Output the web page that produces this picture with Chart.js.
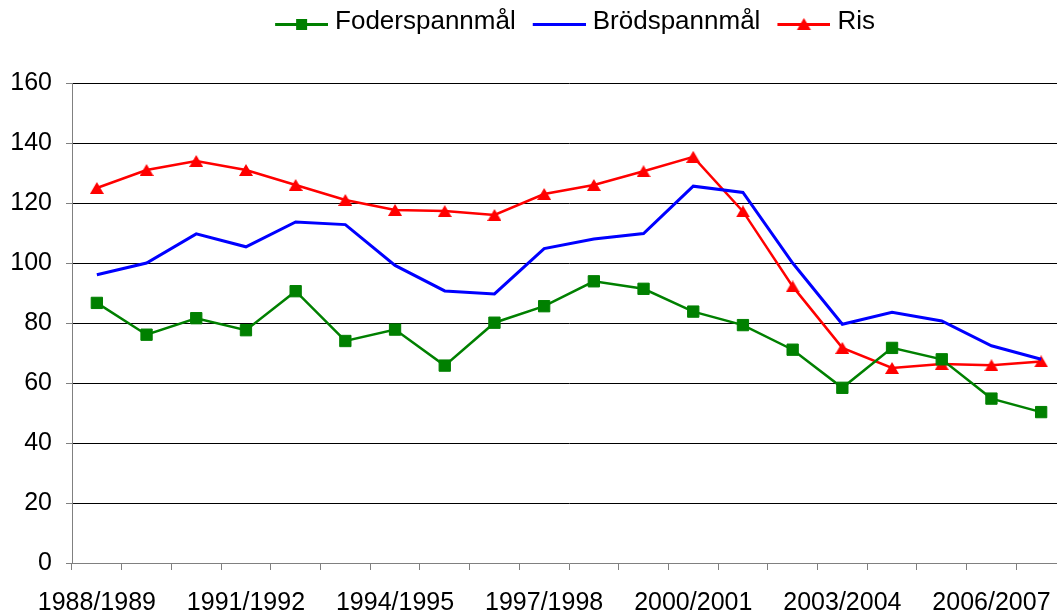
<!DOCTYPE html>
<html>
<head>
<meta charset="utf-8">
<script src="https://cdn.jsdelivr.net/npm/chart.js@4"></script>
<style>
  html, body { margin: 0; padding: 0; background: #fff; overflow: hidden; }
</style>
</head>
<body>
<canvas id="grafico" width="1080" height="614"></canvas>
<script>
// Data
const kategorier = ['1988/1989', '1989/1990', '1990/1991', '1991/1992', '1992/1993', '1993/1994',
  '1994/1995', '1995/1996', '1996/1997', '1997/1998', '1998/1999', '1999/2000', '2000/2001',
  '2001/2002', '2002/2003', '2003/2004', '2004/2005', '2005/2006', '2006/2007', '2007/2008'];
const foderspannmal = [86.7, 76.1, 81.6, 77.6, 90.6, 74.0, 77.8, 65.8, 80.1, 85.6,
  93.9, 91.4, 83.8, 79.3, 71.1, 58.4, 71.7, 67.9, 54.8, 50.3];
const brodspannmal = [96.1, 100.0, 109.7, 105.4, 113.7, 112.8, 99.2, 90.7, 89.7, 104.8,
  108.0, 109.8, 125.6, 123.5, 100.0, 79.6, 83.6, 80.7, 72.4, 67.9];
const ris = [125.0, 131.0, 134.0, 131.0, 126.0, 121.0, 117.7, 117.3, 116.0, 123.0,
  126.0, 130.6, 135.4, 117.2, 92.2, 71.7, 65.0, 66.3, 65.9, 67.2];
const yTicks = [0, 20, 40, 60, 80, 100, 120, 140, 160];

// triangle marker centred on its box (like Excel)
function triangel(w, h, color) {
  const c = document.createElement('canvas');
  c.width = w; c.height = h;
  const g = c.getContext('2d');
  g.fillStyle = color;
  g.beginPath();
  g.moveTo(w / 2, 0);
  g.lineTo(w, h);
  g.lineTo(0, h);
  g.closePath();
  g.fill();
  return c;
}

// legend sample: line with marker in the middle
function legendBild(color, marker) {
  const c = document.createElement('canvas');
  c.width = 71; c.height = 26;
  const g = c.getContext('2d');
  const y = 15.5, x0 = 18, x1 = 71, xm = (x0 + x1) / 2;
  g.strokeStyle = color;
  g.lineWidth = 3;
  g.beginPath(); g.moveTo(x0, y); g.lineTo(x1, y); g.stroke();
  g.fillStyle = color;
  if (marker === 'rect') {
    g.fillRect(xm - 5.5, y - 5.5, 11, 11);
  } else if (marker === 'tri') {
    g.beginPath();
    g.moveTo(xm, y - 6.5); g.lineTo(xm + 7, y + 5.5); g.lineTo(xm - 7, y + 5.5);
    g.closePath(); g.fill();
  }
  return c;
}

const legendBilder = [
  legendBild('#008000', 'rect'),
  legendBild('#0000ff', null),
  legendBild('#ff0000', 'tri')
];

// make room under the legend without moving its text
const legendHojd = {
  id: 'legendHojd',
  beforeInit(chart) {
    const fit = chart.legend.fit;
    chart.legend.fit = function () {
      fit.bind(chart.legend)();
      this.height = 79;
    };
  }
};

const ctx = document.getElementById('grafico').getContext('2d');
new Chart(ctx, {
  type: 'line',
  data: {
    labels: kategorier,
    datasets: [
      {
        label: 'Foderspannmål',
        data: foderspannmal,
        borderColor: '#008000',
        backgroundColor: '#008000',
        borderWidth: 2.5,
        pointStyle: 'rect',
        pointRadius: 8,
        pointBorderWidth: 1,
        tension: 0
      },
      {
        label: 'Brödspannmål',
        data: brodspannmal,
        borderColor: '#0000ff',
        backgroundColor: '#0000ff',
        borderWidth: 3,
        pointRadius: 0,
        tension: 0
      },
      {
        label: 'Ris',
        data: ris,
        borderColor: '#ff0000',
        backgroundColor: '#ff0000',
        borderWidth: 2.5,
        pointStyle: triangel(14, 12, '#ff0000'),
        pointRadius: 7,
        tension: 0
      }
    ]
  },
  options: {
    responsive: false,
    animation: false,
    layout: { padding: { left: 0, right: 14, top: 4, bottom: 0 } },
    plugins: {
      tooltip: { enabled: false },
      legend: {
        position: 'top',
        fullSize: false,
        labels: {
          color: '#000',
          font: { family: 'Liberation Sans, Arial', size: 26 },
          padding: 5,
          usePointStyle: true,
          pointStyleWidth: 59,
          generateLabels(chart) {
            const items = Chart.defaults.plugins.legend.labels.generateLabels(chart);
            items.forEach((it, i) => { it.pointStyle = legendBilder[i]; });
            return items;
          }
        }
      }
    },
    scales: {
      x: {
        offset: true,
        grid: {
          offset: true,
          drawOnChartArea: false,
          drawTicks: true,
          tickLength: 7,
          tickColor: '#808080'
        },
        border: { color: '#808080', width: 1 },
        ticks: {
          autoSkip: false,
          maxRotation: 0,
          padding: 18,
          color: '#000',
          font: { family: 'Liberation Sans, Arial', size: 25 },
          callback(v, i) { return i % 3 === 0 ? kategorier[i] : ''; }
        },
        afterFit(scale) { scale.height = 51; }
      },
      y: {
        min: 0,
        max: 160,
        afterBuildTicks(scale) { scale.ticks = yTicks.map(v => ({ value: v })); },
        grid: {
          color: c => (c.tick && c.tick.value === 0 ? 'rgba(0,0,0,0)' : '#000'),
          lineWidth: 1,
          tickLength: 6,
          tickColor: '#808080'
        },
        border: { color: '#808080', width: 1 },
        ticks: {
          padding: 14,
          color: '#000',
          font: { family: 'Liberation Sans, Arial', size: 25 }
        },
        afterFit(scale) { scale.width = 72; }
      }
    }
  },
  plugins: [legendHojd]
});
</script>
</body>
</html>
